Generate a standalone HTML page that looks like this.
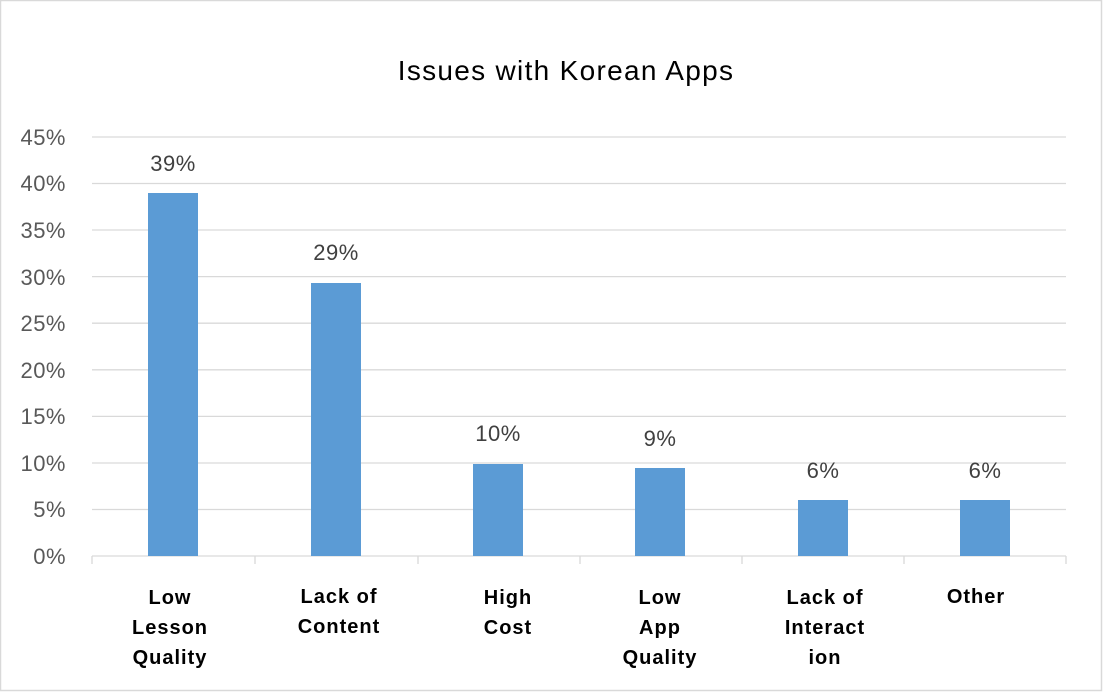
<!DOCTYPE html>
<html><head><style>
html,body{margin:0;padding:0;background:#fff;}
svg{display:block;}
</style></head><body>
<svg width="1103" height="692" viewBox="0 0 1103 692" xmlns="http://www.w3.org/2000/svg" font-family="Liberation Sans, DejaVu Sans, sans-serif">
<rect x="0.5" y="0.5" width="1101" height="690" fill="#fff" stroke="#d9d9d9" stroke-width="1.5"/>
<text x="566" y="80" font-size="28" letter-spacing="1.3" text-anchor="middle" fill="#000">Issues with Korean Apps</text>
<g stroke="#d9d9d9" stroke-width="1.3">
<line x1="92" x2="1066" y1="137" y2="137"/>
<line x1="92" x2="1066" y1="183.5" y2="183.5"/>
<line x1="92" x2="1066" y1="230" y2="230"/>
<line x1="92" x2="1066" y1="276.6" y2="276.6"/>
<line x1="92" x2="1066" y1="323.2" y2="323.2"/>
<line x1="92" x2="1066" y1="369.8" y2="369.8"/>
<line x1="92" x2="1066" y1="416.4" y2="416.4"/>
<line x1="92" x2="1066" y1="463" y2="463"/>
<line x1="92" x2="1066" y1="509.5" y2="509.5"/>
<line x1="92" x2="1066" y1="556" y2="556"/>
<line x1="92" x2="92" y1="556" y2="564"/>
<line x1="255" x2="255" y1="556" y2="564"/>
<line x1="418" x2="418" y1="556" y2="564"/>
<line x1="580" x2="580" y1="556" y2="564"/>
<line x1="742" x2="742" y1="556" y2="564"/>
<line x1="904" x2="904" y1="556" y2="564"/>
<line x1="1066" x2="1066" y1="556" y2="564"/>
</g>
<g font-size="22" fill="#595959" text-anchor="end" letter-spacing="0.5">
<text x="66" y="145">45%</text><text x="66" y="191">40%</text><text x="66" y="238">35%</text>
<text x="66" y="285">30%</text><text x="66" y="331">25%</text><text x="66" y="378">20%</text>
<text x="66" y="424">15%</text><text x="66" y="471">10%</text><text x="66" y="517">5%</text>
<text x="66" y="564">0%</text>
</g>
<g fill="#5b9bd5">
<rect x="148" y="193" width="50" height="363"/>
<rect x="311" y="283" width="50" height="273"/>
<rect x="473" y="464" width="50" height="92"/>
<rect x="635" y="468" width="50" height="88"/>
<rect x="798" y="500" width="50" height="56"/>
<rect x="960" y="500" width="50" height="56"/>
</g>
<g font-size="22" fill="#404040" text-anchor="middle" letter-spacing="0.5">
<text x="173" y="171">39%</text><text x="336" y="260">29%</text><text x="498" y="441">10%</text>
<text x="660" y="446">9%</text><text x="823" y="478">6%</text><text x="985" y="478">6%</text>
</g>
<g font-size="20" font-weight="bold" fill="#000" text-anchor="middle" letter-spacing="1">
<text x="170" y="604">Low</text><text x="170" y="634">Lesson</text><text x="170" y="664">Quality</text>
<text x="339" y="603">Lack of</text><text x="339" y="633">Content</text>
<text x="508" y="604">High</text><text x="508" y="634">Cost</text>
<text x="660" y="604">Low</text><text x="660" y="634">App</text><text x="660" y="664">Quality</text>
<text x="825" y="604">Lack of</text><text x="825" y="634">Interact</text><text x="825" y="664">ion</text>
<text x="976" y="603">Other</text>
</g>
</svg>
</body></html>
